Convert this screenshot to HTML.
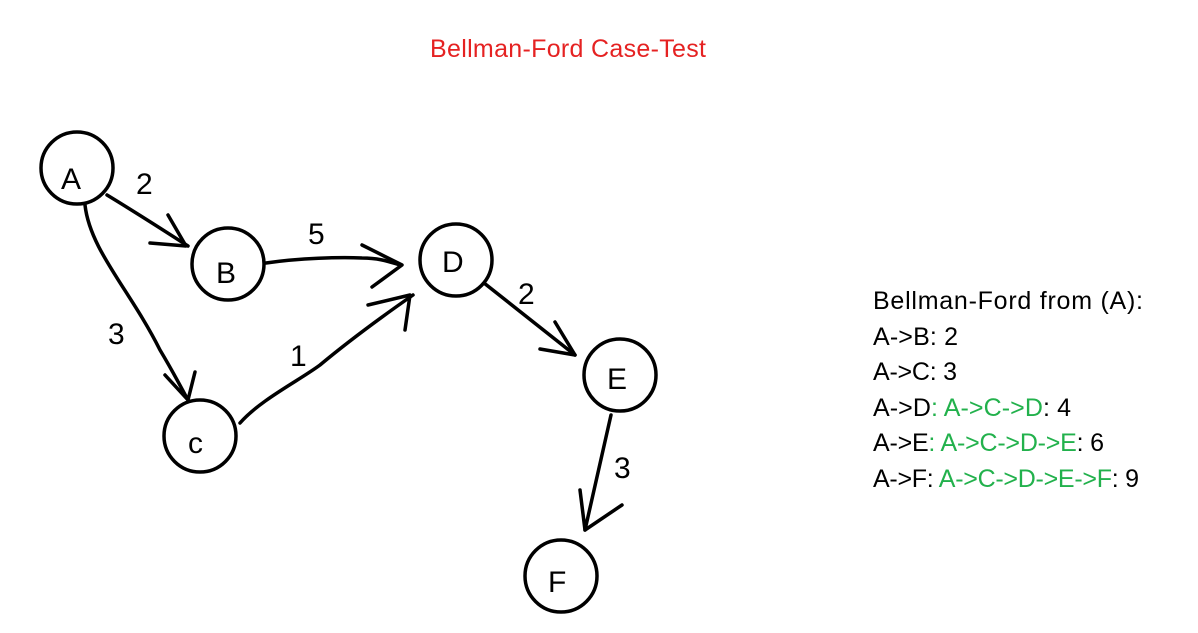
<!DOCTYPE html>
<html><head><meta charset="utf-8"><style>
body{margin:0;background:#fff;width:1198px;height:633px;overflow:hidden}
svg{display:block}
.t{font-family:"Liberation Sans",sans-serif;font-size:25px}
.n{font-family:"Liberation Sans",sans-serif;font-size:30px}
</style></head><body>
<svg width="1198" height="633" viewBox="0 0 1198 633">
<g fill="none" stroke="#000" stroke-width="3.5" stroke-linecap="round" stroke-linejoin="round">
<circle cx="77" cy="168" r="36"/>
<circle cx="228" cy="264" r="36"/>
<circle cx="200" cy="436" r="36"/>
<circle cx="456" cy="260" r="36"/>
<circle cx="620" cy="375" r="36"/>
<circle cx="561" cy="576" r="36"/>
<path d="M107,195 Q140,215 188,246"/>
<path d="M168,215 L186,246 L150,243"/>
<path d="M85,205 C90,250 130,290 160,350 C175,375 185,395 188,400"/>
<path d="M165,375 L188,400 L195,372"/>
<path d="M266,263 C300,258 340,257 362,258 C380,258 390,262 400,265"/>
<path d="M362,245 L402,265 L372,287"/>
<path d="M240,423 C260,400 300,380 320,365 C350,340 380,318 413,295"/>
<path d="M368,305 L410,295 L405,330"/>
<path d="M484,283 L575,355"/>
<path d="M555,322 L575,355 L540,349"/>
<path d="M611,415 L585,530"/>
<path d="M580,490 L585,530 L622,505"/>
</g>
<g class="n" fill="#000">
<text x="136" y="194">2</text>
<text x="308" y="244">5</text>
<text x="108" y="344">3</text>
<text x="290" y="366">1</text>
<text x="518" y="304">2</text>
<text x="614" y="478">3</text>
<text x="61" y="189">A</text>
<text x="216" y="283">B</text>
<text x="188" y="453">c</text>
<text x="442" y="272">D</text>
<text x="607" y="389">E</text>
<text x="548" y="592">F</text>
</g>
<text class="t" x="430" y="57" fill="#e52222" font-size="23" textLength="276">Bellman-Ford Case-Test</text>
<g class="t" fill="#000">
<text x="873" y="309" textLength="270">Bellman-Ford from (A):</text>
<text x="873" y="345" textLength="85">A-&gt;B: 2</text>
<text x="873" y="380" textLength="84">A-&gt;C: 3</text>
<text x="873" y="416" textLength="198">A-&gt;D<tspan fill="#22b14c">: A-&gt;C-&gt;D</tspan>: 4</text>
<text x="873" y="451" textLength="231">A-&gt;E<tspan fill="#22b14c">: A-&gt;C-&gt;D-&gt;E</tspan>: 6</text>
<text x="873" y="487" textLength="266">A-&gt;F: <tspan fill="#22b14c">A-&gt;C-&gt;D-&gt;E-&gt;F</tspan>: 9</text>
</g>
</svg>
</body></html>
